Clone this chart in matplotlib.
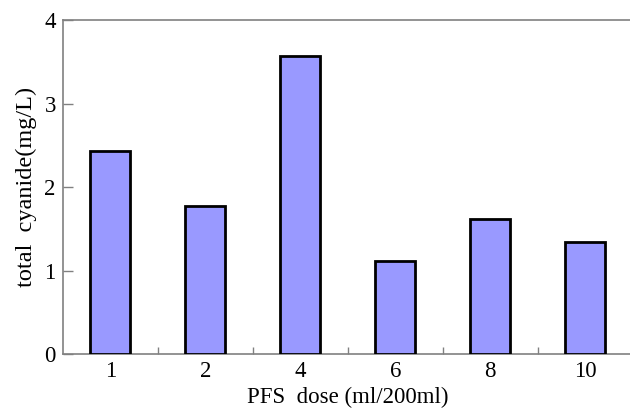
import matplotlib
matplotlib.use("Agg")
import matplotlib.pyplot as plt
import numpy as np

categories = ["1", "2", "4", "6", "8", "10"]
values = [2.43, 1.78, 3.57, 1.12, 1.62, 1.34]
yticks = [0, 1, 2, 3, 4]

plt.rcParams['font.family'] = ['Liberation Serif', 'DejaVu Serif']

fig = plt.figure(figsize=(6.3, 4.11), dpi=100)
left, right, top, bottom = 62.7, 632.7, 20.0, 354.4
ax = fig.add_axes([left/630, 1 - bottom/411, (right - left)/630, (bottom - top)/411])

x = np.arange(len(categories))
ax.bar(x, values, width=0.42, color="#9999FF", edgecolor="black", linewidth=2.0, zorder=3)

ax.set_xlim(-0.5, len(categories) - 0.5)
ax.set_ylim(0, 4)
ax.set_yticks(yticks)
ax.set_yticklabels([str(t) for t in yticks], fontsize=16.5)
ax.set_xticks(x)
ax.set_xticklabels(categories, fontsize=16.5)
ax.set_xticks(np.arange(len(categories) - 1) + 0.5, minor=True)

for s in ["left", "bottom", "top", "right"]:
    ax.spines[s].set_color("#808080")
    ax.spines[s].set_linewidth(1.2)

ax.tick_params(axis="y", direction="in", length=7, color="#808080", width=1, pad=5)
ax.tick_params(axis="x", which="major", length=0, pad=5)
ax.tick_params(axis="x", which="minor", direction="in", length=5, color="#808080", width=1)

ax.set_ylabel("total  cyanide(mg/L)", fontsize=17.5, labelpad=5)
ax.set_xlabel("PFS  dose (ml/200ml)", fontsize=16.5, labelpad=3)

fig.savefig("out.png", dpi=100)
